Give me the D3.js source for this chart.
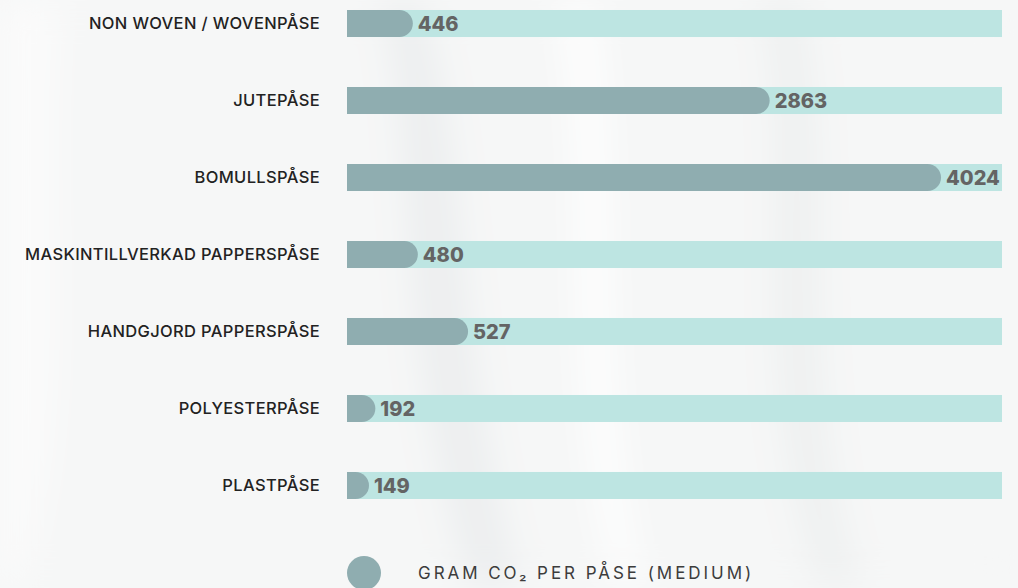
<!DOCTYPE html>
<html>
<head>
<meta charset="utf-8">
<script src="https://cdn.jsdelivr.net/npm/d3@7"></script>
<style>
  body { margin: 0; background: #f6f7f7; overflow: hidden; }
  svg { display: block; }
</style>
</head>
<body>
<svg id="chart" width="1018" height="588"></svg>
<script>
// data
let categories = [
  "NON WOVEN / WOVENPÅSE",
  "JUTEPÅSE",
  "BOMULLSPÅSE",
  "MASKINTILLVERKAD PAPPERSPÅSE",
  "HANDGJORD PAPPERSPÅSE",
  "POLYESTERPÅSE",
  "PLASTPÅSE"
];
let valueLabels = ["446", "2863", "4024", "480", "527", "192", "149"];
// bar lengths as drawn (the handmade paper bag bar is drawn longer than its label)
let barLengths = [446, 2863, 4024, 480, 820, 192, 149];
let legendLabel = "GRAM CO₂ PER PÅSE (MEDIUM)";

let svg = d3.select("#chart");

// soft marble-ish background
let defs = svg.append("defs");
let blur = defs.append("filter").attr("id", "blur").attr("x", "-50%").attr("y", "-50%").attr("width", "200%").attr("height", "200%");
blur.append("feGaussianBlur").attr("stdDeviation", 18);
let bg = svg.append("g").attr("filter", "url(#blur)");
bg.append("rect").attr("width", 1018).attr("height", 588).attr("fill", "#f6f7f7");
bg.append("path").attr("d", "M380,0 C420,150 390,320 470,588 L520,588 C450,330 470,150 420,0 Z").attr("fill", "#eceeef");
bg.append("path").attr("d", "M560,0 C600,200 560,380 620,588 L640,588 C590,380 620,200 590,0 Z").attr("fill", "#ffffff");
bg.append("path").attr("d", "M760,0 C800,180 740,360 820,588 L860,588 C790,360 840,180 800,0 Z").attr("fill", "#eef0f0");
bg.append("path").attr("d", "M0,0 L60,0 C40,200 80,400 20,588 L0,588 Z").attr("fill", "#fbfbfb");

// scales
let x = d3.scaleLinear()
  .domain([0, 4437])
  .range([347, 1002]);

let y = d3.scaleBand()
  .domain(categories)
  .range([10, 499])
  .paddingInner(0.649)
  .paddingOuter(0);

let bh = y.bandwidth();

let rows = svg.append("g")
  .selectAll("g")
  .data(categories)
  .enter()
  .append("g")
  .attr("transform", d => `translate(0, ${y(d)})`);

// background track
rows.append("rect")
  .attr("x", x(0))
  .attr("y", 0)
  .attr("width", x.range()[1] - x(0))
  .attr("height", bh)
  .attr("fill", "#bde5e2");

// bar with rounded right end
rows.append("path")
  .attr("fill", "#8fadb0")
  .attr("d", (d, i) => {
    let x0 = x(0), x1 = x(barLengths[i]), r = bh / 2;
    let xe = Math.max(x0, x1 - r);
    return `M${x0},0 H${xe} A${r},${r} 0 0 1 ${xe},${bh} H${x0} Z`;
  });

// value labels
rows.append("text")
  .attr("x", (d, i) => x(barLengths[i]) + 5)
  .attr("y", bh / 2)
  .attr("dy", "0.36em")
  .attr("font-family", "Inter, 'Open Sans', sans-serif")
  .attr("font-weight", 800)
  .attr("font-size", 20)
  .attr("fill", "#646464")
  .text((d, i) => valueLabels[i]);

// category labels
rows.append("text")
  .attr("x", 320)
  .attr("y", bh / 2)
  .attr("dy", "0.36em")
  .attr("text-anchor", "end")
  .attr("font-family", "Inter, 'Open Sans', sans-serif")
  .attr("font-weight", 500)
  .attr("font-size", 16.5)
  .attr("letter-spacing", 0.35)
  .attr("fill", "#222")
  .text(d => d);

// legend
let legend = svg.append("g").attr("transform", "translate(364, 573)");
legend.append("circle").attr("r", 17).attr("fill", "#8fadb0");
legend.append("text")
  .attr("x", 54)
  .attr("dy", "0.36em")
  .attr("font-family", "Inter, 'Open Sans', sans-serif")
  .attr("font-size", 17)
  .attr("letter-spacing", 2.95)
  .attr("fill", "#3c3c3c")
  .text(legendLabel);
</script>
</body>
</html>
